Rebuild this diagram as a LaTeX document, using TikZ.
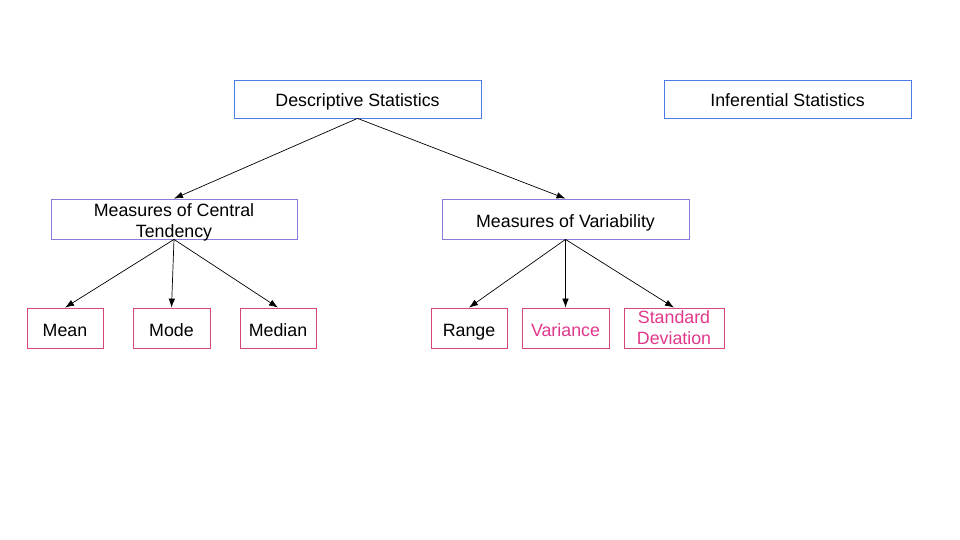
\documentclass[tikz,border=0pt]{standalone}
\usepackage{fontspec}
\setmainfont{Liberation Sans}
\usepackage{xcolor}
\usepackage{tikz}
\usetikzlibrary{shapes,arrows,arrows.meta,positioning,calc}

\definecolor{topblue}{HTML}{4A7DE8}
\definecolor{midpurple}{HTML}{8A7BD6}
\definecolor{leafpink}{HTML}{D6457C}
\definecolor{textpink}{HTML}{E2388B}

\begin{document}
\begin{tikzpicture}[x=1pt, y=-1pt,
    box/.style={draw, rectangle, line width=0.8pt, inner sep=0pt, align=center,
        font=\fontsize{17.8}{20.5}\selectfont, text height=16pt, text depth=0pt},
    topbox/.style={box, draw=topblue, minimum width=247pt, minimum height=38pt},
    midbox/.style={box, draw=midpurple, minimum width=246pt, minimum height=40pt},
    leafbox/.style={box, draw=leafpink, minimum width=76pt, minimum height=40pt},
    link/.style={-{Latex[length=9pt,width=6.5pt]}, line width=0.7pt}]
    \useasboundingbox (0,0) rectangle (960,540);
    \fill[white] (0,0) rectangle (960,540);

    % top row
    \node[topbox] (desc) at (357.5,99) {Descriptive Statistics};
    \node[topbox] (infer) at (787.5,99) {Inferential Statistics};

    % middle row
    \node[midbox, text height=36pt] (central) at (174,219) {Measures of Central\\Tendency};
    \node[midbox, minimum width=247pt] (var) at (565.5,219) {Measures of Variability};

    % leaves
    \node[leafbox] (mean) at (65,328) {Mean};
    \node[leafbox, minimum width=77pt] (mode) at (171.5,328) {Mode};
    \node[leafbox] (median) at (278,328) {Median};
    \node[leafbox] (range) at (469,328) {Range};
    \node[leafbox, minimum width=87pt, text=textpink] (variance) at (565.5,328) {Variance};
    \node[leafbox, text height=32pt, minimum width=100pt, text=textpink] (sd) at (674,328) {Standard\\Deviation};

    \draw[link] (desc.south) -- (central.north);
    \draw[link] (desc.south) -- (var.north);
    \draw[link] (central.south) -- (mean.north);
    \draw[link] (central.south) -- (mode.north);
    \draw[link] (central.south) -- (median.north);
    \draw[link] (var.south) -- (range.north);
    \draw[link] (var.south) -- (variance.north);
    \draw[link] (var.south) -- (sd.north);
\end{tikzpicture}
\end{document}
